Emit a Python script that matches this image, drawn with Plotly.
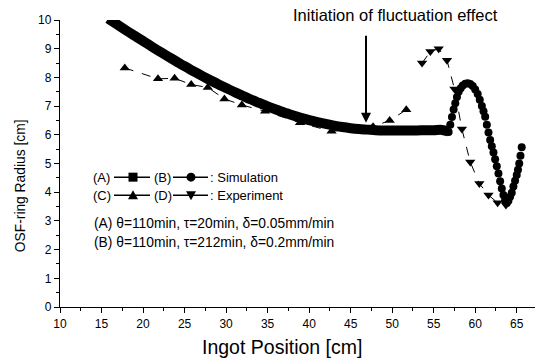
import plotly.graph_objects as go

# ---------------- data ----------------
# Simulation (A): thick curve
sim_a_x = [15.8, 17, 18, 19, 20, 21, 22, 23, 24, 25, 26, 27, 28, 29, 30, 31, 32, 33, 34, 35,
           36, 37, 38, 39, 40, 41, 42, 43, 44, 45, 46, 47, 48, 49, 50, 51, 52, 53, 54, 55, 56, 56.8]
sim_a_y = [10.05, 9.82, 9.63, 9.45, 9.27, 9.08, 8.9, 8.73, 8.56, 8.39, 8.23, 8.07, 7.92, 7.77, 7.63,
           7.49, 7.36, 7.23, 7.11, 6.99, 6.88, 6.78, 6.68, 6.59, 6.51, 6.44, 6.38, 6.32, 6.27, 6.23,
           6.2, 6.18, 6.16, 6.15, 6.15, 6.15, 6.15, 6.15, 6.16, 6.16, 6.17, 6.12]

# Simulation (B): oscillating part (circles)
sim_b_x = [56.8, 57.0, 57.2, 57.4, 57.6, 57.8, 58.0, 58.25, 58.5, 58.8, 59.1, 59.4, 59.7, 60.0,
           60.3, 60.55, 60.8, 61.0, 61.2, 61.4, 61.6, 61.8, 62.0, 62.2, 62.4, 62.6, 62.8, 63.0,
           63.2, 63.4, 63.6, 63.8, 64.0, 64.2, 64.4, 64.6, 64.8, 65.0, 65.15, 65.3, 65.45, 65.6]
sim_b_y = [6.1, 6.35, 6.62, 6.88, 7.1, 7.32, 7.5, 7.62, 7.72, 7.78, 7.8, 7.77, 7.7, 7.58,
           7.42, 7.22, 7.0, 6.82, 6.63, 6.35, 6.08, 5.82, 5.6, 5.38, 5.15, 4.9, 4.65, 4.38,
           4.13, 3.9, 3.72, 3.62, 3.7, 3.84, 3.98, 4.2, 4.4, 4.6, 4.78, 5.0, 5.27, 5.57]

# Experiment (C): up triangles
exp_c_x = [17.8, 21.8, 23.8, 25.8, 27.8, 29.8, 31.9, 34.7, 38.9, 42.7, 47.7, 49.7, 51.7]
exp_c_y = [8.33, 7.95, 7.97, 7.75, 7.65, 7.25, 7.04, 6.82, 6.42, 6.12, 6.28, 6.5, 6.87]

# Experiment (D): down triangles
exp_d_x = [53.6, 54.6, 55.6, 56.6, 57.5, 58.4, 59.4, 60.5, 61.6, 62.7, 63.7]
exp_d_y = [8.5, 8.9, 9.0, 8.6, 7.6, 6.2, 5.05, 4.3, 3.9, 3.63, 3.55]

x_ticks = [10, 15, 20, 25, 30, 35, 40, 45, 50, 55, 60, 65]
y_ticks = [0, 1, 2, 3, 4, 5, 6, 7, 8, 9, 10]

x_title = "Ingot Position [cm]"
y_title = "OSF-ring Radius [cm]"
note = "Initiation of fluctuation effect"
arrow_x = 46.85
arrow_from_y = 9.5
arrow_to_y = 6.42
legend_rows = [("(A)", "(B)", ": Simulation"), ("(C)", "(D)", ": Experiment")]
param_rows = ["(A) θ=110min, τ=20min, δ=0.05mm/min",
              "(B) θ=110min, τ=212min, δ=0.2mm/min"]

# ---------------- layout helpers (pixel -> paper) ----------------
L, T, B, R = 60, 20, 54.3, 3
W, H = 538, 361
XR = [10, 67.2]
YR = [0, 10]
pw = W - L - R
ph = H - T - B


def px(x):
    return (x - L) / pw


def py(y):
    return (H - B - y) / ph


FONT = "Liberation Sans, Arial, sans-serif"
BLACK = "black"

fig = go.Figure()
fig.add_trace(go.Scatter(x=sim_a_x, y=sim_a_y, mode="lines",
                         line=dict(color=BLACK, width=10, shape="spline"), showlegend=False))
fig.add_trace(go.Scatter(x=exp_c_x, y=exp_c_y, mode="lines+markers",
                         line=dict(color=BLACK, width=1, dash="dash"),
                         marker=dict(symbol="triangle-up", size=9, color=BLACK), showlegend=False))
fig.add_trace(go.Scatter(x=exp_d_x, y=exp_d_y, mode="lines+markers",
                         line=dict(color=BLACK, width=1, dash="dash"),
                         marker=dict(symbol="triangle-down", size=9, color=BLACK), showlegend=False))
fig.add_trace(go.Scatter(x=sim_b_x, y=sim_b_y, mode="markers",
                         marker=dict(symbol="circle", size=8, color=BLACK), showlegend=False))

annotations = []
shapes = []


def text_ann(txt, x, y, size, xanchor="center", angle=0):
    return dict(x=px(x), y=py(y), xref="paper", yref="paper", text=txt, showarrow=False,
                xanchor=xanchor, yanchor="middle", textangle=angle,
                font=dict(family=FONT, size=size, color=BLACK))


# arrow
annotations.append(dict(x=arrow_x, y=arrow_to_y, ax=arrow_x, ay=arrow_from_y, xref="x", yref="y",
                        axref="x", ayref="y", text="", showarrow=True, arrowhead=2, arrowsize=1,
                        arrowwidth=2, arrowcolor=BLACK))
annotations.append(text_ann(note, 395, 15, 16.5))

# legend rows
row_py = [177, 195]
symbols = [("square", "circle"), ("triangle-up", "triangle-down")]
for (la, lb, lt), rowy, (s1, s2) in zip(legend_rows, row_py, symbols):
    yv = py(rowy)
    for txt, xx in [(la, 91), (lb, 152), (lt, 208)]:
        annotations.append(text_ann(txt, xx, rowy, 13, xanchor="left"))
    for (p0, p1, pc, sym) in [(114, 150, 133, s1), (173, 208, 191, s2)]:
        shapes.append(dict(type="line", xref="paper", yref="paper", x0=px(p0), x1=px(p1), y0=yv, y1=yv,
                           line=dict(color=BLACK, width=1.5)))
        if sym in ("square", "circle"):
            shapes.append(dict(type="rect" if sym == "square" else "circle",
                               xref="paper", yref="paper", xsizemode="pixel", ysizemode="pixel",
                               xanchor=px(pc), yanchor=yv, x0=-4.5, x1=4.5, y0=-4.5, y1=4.5,
                               fillcolor=BLACK, line=dict(width=0)))
        else:
            s = 1 if sym == "triangle-up" else -1
            path = f"M -5,{-4*s} L 5,{-4*s} L 0,{5*s} Z"
            shapes.append(dict(type="path", xref="paper", yref="paper", xsizemode="pixel", ysizemode="pixel",
                               xanchor=px(pc), yanchor=yv, path=path,
                               fillcolor=BLACK, line=dict(width=0)))

for txt, rowy in zip(param_rows, [223, 242]):
    annotations.append(text_ann(txt, 92, rowy, 13.8, xanchor="left"))

# axis titles
annotations.append(text_ann(x_title, 282, 347, 19.5))
annotations.append(text_ann(y_title, 20, 186, 13.8, angle=-90))

axis_common = dict(showline=True, linecolor=BLACK, linewidth=1.3, ticks="outside", tickcolor=BLACK,
                   tickwidth=1.3, ticklen=5, showgrid=False, zeroline=False, mirror=False,
                   tickfont=dict(family=FONT, size=12, color=BLACK))

fig.update_layout(
    width=W, height=H, margin=dict(l=L, r=R, t=T, b=B),
    paper_bgcolor="white", plot_bgcolor="white",
    xaxis=dict(range=XR, tickvals=x_ticks, **axis_common,
               minor=dict(dtick=2.5, tick0=10, ticks="outside", ticklen=3, tickcolor=BLACK, tickwidth=1.2)),
    yaxis=dict(range=YR, tickvals=y_ticks, **axis_common,
               minor=dict(dtick=0.5, tick0=0, ticks="outside", ticklen=3, tickcolor=BLACK, tickwidth=1.2)),
    annotations=annotations, shapes=shapes, showlegend=False,
)

fig.write_html("out.html")
